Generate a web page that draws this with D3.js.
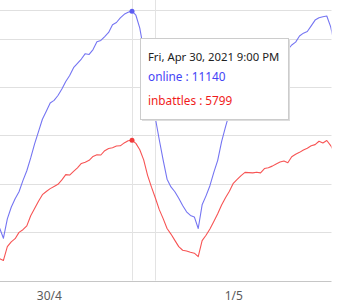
<!DOCTYPE html>
<html>
<head>
<meta charset="utf-8">
<script src="https://cdn.jsdelivr.net/npm/d3@7"></script>
<style>
  body { margin: 0; background: #fff; }
  svg { display: block; font-family: "Noto Sans", "Open Sans", sans-serif; }
</style>
</head>
<body>
<svg id="chart" width="339" height="304"></svg>
<script>
// half-hourly samples, starting Apr 30 2021 03:30
var startTime = new Date(2021, 3, 30, 3, 30);
var stepMinutes = 30;

var online = [
    2200, 2170, 1750, 2550, 3030, 3380, 3670, 4130, 4540, 5070,
    5650, 6160, 6670, 7000, 7340, 7450, 7650, 7920, 8230, 8480,
    8800, 8980, 9160, 9380, 9350, 9550, 9870, 9930, 10090, 10260,
    10580, 10670, 10860, 11010, 11090, 11140, 10970, 10440, 9530, 8580,
    7620, 6710, 5820, 4980, 4190, 3870, 3670, 3400, 3100, 2840,
    2690, 2630, 2150, 3130, 3500, 3920, 4470, 4970, 5740, 6350,
    6920, 7460, 7870, 8250, 8500, 8700, 8870, 8990, 9120, 9200,
    9280, 9370, 9410, 9450, 9490, 9550, 9740, 9860, 10110, 10230,
    10300, 10530, 10770, 10870, 10910, 10940, 10490, 9740
];
var inbattles = [
    910, 900, 830, 1400, 1600, 1730, 1990, 2100, 2260, 2680,
    2980, 3280, 3550, 3680, 3800, 3890, 3980, 4160, 4380, 4360,
    4510, 4660, 4840, 4890, 4970, 5130, 5200, 5190, 5370, 5460,
    5490, 5560, 5570, 5690, 5780, 5799, 5670, 5410, 4990, 4350,
    3860, 3410, 2930, 2560, 2150, 1920, 1660, 1400, 1250, 1220,
    1170, 1130, 990, 1650, 1870, 2130, 2440, 2760, 3120, 3420,
    3690, 4020, 4180, 4340, 4470, 4460, 4450, 4480, 4450, 4630,
    4660, 4730, 4820, 4900, 4940, 4870, 5120, 5220, 5300, 5400,
    5470, 5570, 5620, 5760, 5690, 5790, 5580, 5300
];

var gridValues = [0, 2000, 4000, 6000, 8000, 10000];
var tickDates = [new Date(2021, 3, 30, 10, 20), new Date(2021, 4, 1, 10, 0)];
var tickLabels = ["30/4", "1/5"];
var markerLines = [new Date(2021, 3, 30, 21, 0), new Date(2021, 4, 1, 0, 0)];
var focusTime = new Date(2021, 3, 30, 21, 0);
var tooltipTitle = "Fri, Apr 30, 2021 9:00 PM";

var series = [
    { name: "online", values: online, color: "#7575f2", dot: "#5c5cf2", text: "#4444f6" },
    { name: "inbattles", values: inbattles, color: "#f75454", dot: "#f03c3c", text: "#f01c1c" }
];

var svg = d3.select("#chart");
var area = { left: 0, right: 331.5, top: 10.5, bottom: 280.5 };
var pxPerHour = 187 / 24;

var times = online.map(function(d, i) { return new Date(+startTime + i * stepMinutes * 60000); });
var x = d3.scaleTime()
    .domain([times[0], times[times.length - 1]])
    .range([132 - 17.5 * pxPerHour, 132 + 26 * pxPerHour]);
var y = d3.scaleLinear()
    .domain([0, 10000])
    .range([area.bottom, 38.7]);

svg.append("defs").append("clipPath").attr("id", "clip")
    .append("rect")
    .attr("x", area.left).attr("y", 0)
    .attr("width", area.right - area.left).attr("height", area.bottom + 1);

// gridlines
svg.append("line")
    .attr("x1", area.left).attr("x2", area.right)
    .attr("y1", area.top).attr("y2", area.top)
    .attr("stroke", "#e0e0e0");
svg.append("g").selectAll("line")
    .data(gridValues.filter(function(v) { return v > 0; }))
    .join("line")
    .attr("x1", area.left).attr("x2", area.right)
    .attr("y1", function(d) { return Math.round(y(d)) + 0.5; })
    .attr("y2", function(d) { return Math.round(y(d)) + 0.5; })
    .attr("stroke", "#e0e0e0");
svg.append("g").selectAll("line")
    .data(markerLines)
    .join("line")
    .attr("x1", function(d) { return Math.round(x(d)) + 0.5; })
    .attr("x2", function(d) { return Math.round(x(d)) + 0.5; })
    .attr("y1", 0).attr("y2", area.bottom)
    .attr("stroke", "#e3e3e3");

// x axis
var xAxis = svg.append("g")
    .attr("transform", "translate(0," + (Math.round(y(0)) + 0.5) + ")")
    .call(d3.axisBottom(x).tickValues(tickDates).tickSize(0).tickPadding(10)
        .tickFormat(function(d, i) { return tickLabels[i]; }));
xAxis.select(".domain").remove();
xAxis.selectAll("text").attr("fill", "#5a5a5a").style("font-size", "12px")
    .style("font-family", "\"Noto Sans\", sans-serif");
svg.append("line")
    .attr("x1", area.left).attr("x2", area.right)
    .attr("y1", Math.round(y(0)) + 0.5).attr("y2", Math.round(y(0)) + 0.5)
    .attr("stroke", "#c6c6c6");

// series
var line = d3.line()
    .x(function(d, i) { return x(times[i]); })
    .y(function(d) { return y(d); });
var plot = svg.append("g").attr("clip-path", "url(#clip)");
series.forEach(function(s) {
    plot.append("path")
        .datum(s.values)
        .attr("fill", "none")
        .attr("stroke", s.color)
        .attr("stroke-width", 1.1)
        .attr("stroke-linejoin", "round")
        .attr("d", line);
});
var fi = times.findIndex(function(t) { return +t === +focusTime; });
series.forEach(function(s) {
    svg.append("circle")
        .attr("cx", x(times[fi])).attr("cy", y(s.values[fi]))
        .attr("r", 2.5)
        .attr("fill", s.dot);
});

// tooltip
var tip = svg.append("g").attr("transform", "translate(140.5,38.5)");
tip.append("rect")
    .attr("x", 1.5).attr("y", 1.5).attr("width", 148).attr("height", 81)
    .attr("fill", "#ddd");
tip.append("rect")
    .attr("width", 148).attr("height", 81)
    .attr("fill", "#fff").attr("stroke", "#ccc");
tip.append("text")
    .attr("x", 7.5).attr("y", 22.5)
    .attr("fill", "#222").style("font-size", "11.3px")
    .text(tooltipTitle);
tip.selectAll("text.row")
    .data(series)
    .join("text")
    .attr("class", "row")
    .attr("x", 7.5)
    .attr("y", function(d, i) { return 42.5 + i * 23.5; })
    .attr("fill", function(d) { return d.text; })
    .style("font-size", "11.8px")
    .text(function(d) { return d.name + " : " + d.values[fi]; });
</script>
</body>
</html>
